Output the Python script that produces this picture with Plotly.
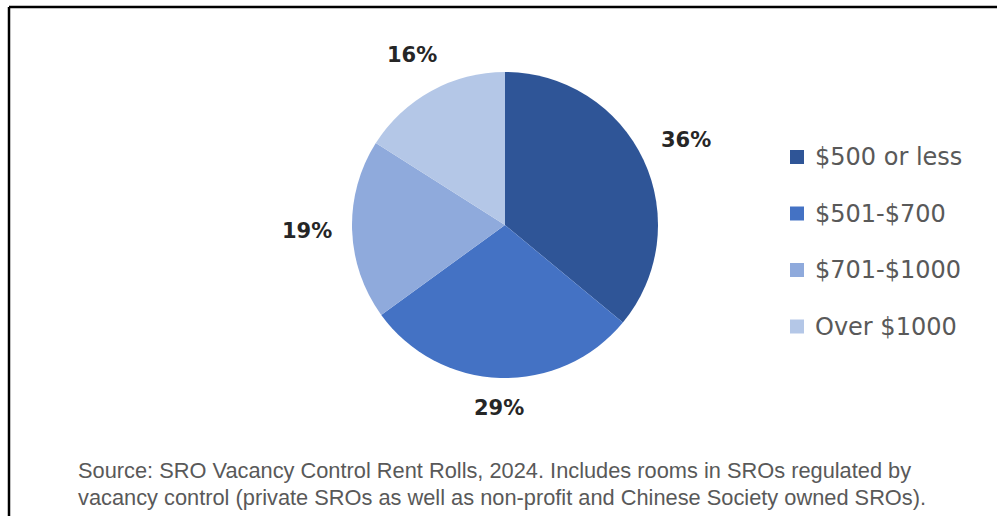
import math
import plotly.graph_objects as go

categories = ["$500 or less", "$501-$700", "$701-$1000", "Over $1000"]
values = [36, 29, 19, 16]
colors = ["#2F5597", "#4472C4", "#8FAADC", "#B4C7E7"]
source_lines = [
    "Source: SRO Vacancy Control Rent Rolls, 2024. Includes rooms in SROs regulated by",
    "vacancy control (private SROs as well as non-profit and Chinese Society owned SROs).",
]

W, H = 997, 516
cx, cy, R = 505, 225, 153

def px(x):
    return x / W

def py(y):
    return 1 - y / H

fig = go.Figure()
fig.add_trace(go.Pie(
    labels=categories, values=values, sort=False, direction="clockwise", rotation=0,
    marker=dict(colors=colors, line=dict(color="white", width=0)),
    textinfo="none", hoverinfo="label+percent", showlegend=False,
    domain=dict(x=[px(cx - R), px(cx + R)], y=[py(cy + R), py(cy - R)]),
))

annotations = []
total = sum(values)
cum = 0
for v in values:
    mid = (cum + v / 2) / total * 2 * math.pi
    cum += v
    s, c = math.sin(mid), math.cos(mid)
    ext = abs(s) * 27 + abs(c) * 11
    d = R + 18 + ext
    lx, ly = cx + d * s, cy - d * c
    annotations.append(dict(
        x=px(lx), y=py(ly), xref="paper", yref="paper", showarrow=False,
        text="<b>%d%%</b>" % round(v / total * 100),
        font=dict(family="DejaVu Sans", size=21, color="#262626"),
        xanchor="center", yanchor="middle",
    ))

shapes = []
leg_x, leg_y0, leg_dy = 790, 157, 56.5
for i, (cat, col) in enumerate(zip(categories, colors)):
    y = leg_y0 + i * leg_dy
    shapes.append(dict(type="rect", xref="paper", yref="paper",
                       x0=px(leg_x), x1=px(leg_x + 14), y0=py(y + 7), y1=py(y - 7),
                       fillcolor=col, line=dict(width=0)))
    annotations.append(dict(
        x=px(leg_x + 23), y=py(y), xref="paper", yref="paper", showarrow=False,
        text=cat, font=dict(family="DejaVu Sans", size=24, color="#595959"),
        xanchor="left", yanchor="middle",
    ))

for i, line in enumerate(source_lines):
    annotations.append(dict(
        x=px(76), y=py(470 + i * 27), xref="paper", yref="paper", showarrow=False,
        text=line, font=dict(family="Liberation Sans", size=21.8, color="#595959"),
        xanchor="left", yanchor="middle",
    ))

shapes.append(dict(type="line", xref="paper", yref="paper", x0=px(9), x1=1, y0=py(7), y1=py(7),
                   line=dict(color="black", width=2.5)))
shapes.append(dict(type="line", xref="paper", yref="paper", x0=px(9), x1=px(9), y0=py(7), y1=0,
                   line=dict(color="black", width=2.5)))

fig.update_layout(
    width=W, height=H, margin=dict(l=0, r=0, t=0, b=0),
    paper_bgcolor="white", plot_bgcolor="white",
    annotations=annotations, shapes=shapes,
)
fig.write_html("out.html", config={"displayModeBar": False},
               post_script="document.body.style.margin='0';document.body.style.padding='0';")
